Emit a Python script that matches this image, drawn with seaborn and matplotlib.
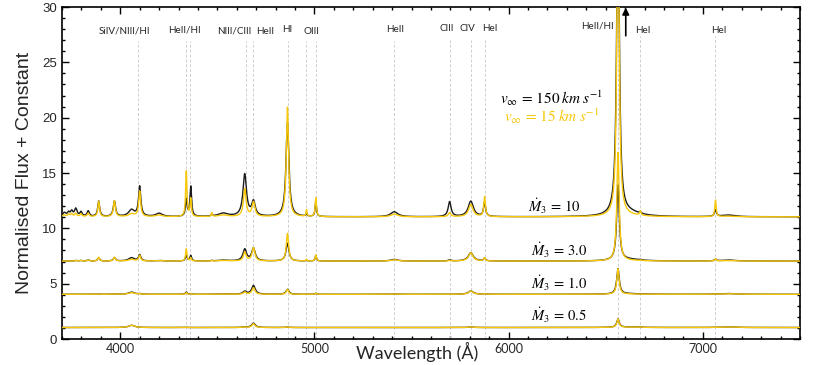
import numpy as np
import pandas as pd
import matplotlib
matplotlib.use('Agg')
import matplotlib.pyplot as plt
import seaborn as sns
from matplotlib.ticker import MultipleLocator

sns.set_style('ticks')
plt.rcParams['font.family'] = ['Liberation Sans', 'DejaVu Sans']
plt.rcParams['mathtext.fontset'] = 'stix'

# ---------------- data ----------------
models = ['10', '3.0', '1.0', '0.5']
offsets = [10, 6, 3, 0]
continuum = 1.04

# emission line centres (Angstrom)
centers = [3712, 3734, 3750, 3771, 3798, 3835, 3889, 3970, 4058, 4100, 4200,
           4340, 4363, 4471, 4530, 4641, 4686, 4861, 4959, 5007, 5411, 5696,
           5805, 5876, 6563, 6620, 6678, 7065, 7130]
# half widths (Angstrom) for the fast (150 km/s) and slow (15 km/s) winds
hwhm_fast = [10, 7, 7, 8, 7, 7, 6, 7, 18, 7, 20, 5, 5, 4, 30, 11, 11, 9, 3, 4,
             22, 9, 16, 6, 8, 70, 5, 6, 40]
hwhm_slow = [10, 6, 6, 6, 6, 6, 5, 6, 18, 6, 20, 4, 4, 3, 30, 8, 9, 7, 3, 4,
             20, 8, 14, 5, 7, 70, 4, 4, 40]
# peak heights above the continuum
amp_fast_10 = [0.35, 0.35, 0.45, 0.7, 0.4, 0.5, 1.4, 1.4, 0.6, 2.7, 0.3, 1.5, 2.7,
               0.15, 0.3, 3.8, 1.3, 8.5, 0.3, 1.4, 0.45, 1.35, 1.4, 1.3, 30,
               0.35, 0.15, 0.6, 0.15]
amp_slow_10 = [0.15, 0.2, 0.25, 0.3, 0.25, 0.3, 1.4, 1.45, 0.25, 2.3, 0.15, 4.1,
               1.6, 0.35, 0.15, 2.5, 1.3, 9.9, 0.6, 1.7, 0.25, 0.35, 1.1, 1.8,
               30, 0.1, 0.4, 1.5, 0.05]
amp_fast_3 = [0, 0, 0, 0.05, 0.05, 0.1, 0.3, 0.3, 0.3, 0.55, 0.05, 0.5, 0.5,
              0.05, 0.08, 1.05, 1.15, 1.6, 0.08, 0.5, 0.15, 0.1, 0.75, 0.25,
              6.8, 0.15, 0.05, 0.15, 0.1]
amp_slow_3 = [0, 0, 0, 0.05, 0.05, 0.1, 0.35, 0.35, 0.15, 0.5, 0.05, 1.1, 0.3,
              0.05, 0.05, 0.8, 1.2, 2.5, 0.15, 0.55, 0.12, 0.05, 0.75, 0.3,
              9.8, 0.05, 0.05, 0.2, 0.05]
amp_fast_1 = [0, 0, 0, 0, 0, 0, 0.03, 0.03, 0.2, 0.05, 0, 0.2, 0.05, 0, 0.03,
              0.25, 0.8, 0.45, 0, 0.1, 0.03, 0, 0.3, 0.05, 2.3, 0.05, 0, 0.03,
              0.07]
amp_slow_1 = [0, 0, 0, 0, 0, 0, 0.03, 0.03, 0.15, 0.05, 0, 0.15, 0.05, 0, 0.03,
              0.2, 0.6, 0.45, 0, 0.1, 0.03, 0, 0.3, 0.05, 2.3, 0.02, 0, 0.03,
              0.05]
amp_fast_05 = [0, 0, 0, 0, 0, 0, 0, 0, 0.2, 0, 0, 0.02, 0, 0, 0, 0.05, 0.4,
               0.05, 0, 0, 0, 0, 0.05, 0, 0.75, 0.04, 0.05, 0, 0.06]
amp_slow_05 = [0, 0, 0, 0, 0, 0, 0, 0, 0.2, 0, 0, 0.02, 0, 0, 0, 0.05, 0.35,
               0.05, 0, 0, 0, 0, 0.05, 0, 0.75, 0.03, 0.04, 0, 0.05]
amps_fast = [amp_fast_10, amp_fast_3, amp_fast_1, amp_fast_05]
amps_slow = [amp_slow_10, amp_slow_3, amp_slow_1, amp_slow_05]

# identified lines (dashed markers) and their labels
marker_wl = [4089, 4340, 4358, 4645, 4683, 4862, 4959, 5007, 5411, 5696, 5806,
             5880, 6563, 6678, 7065]
marker_top = [26.9, 26.9, 26.9, 26.9, 26.9, 26.9, 26.9, 26.9, 26.9, 27.0, 27.0,
              27.0, 30.0, 27.4, 27.4]
label_text = ['SiIV/NIII/HI', 'HeII/HI', 'NIII/CIII', 'HeII', 'HI', 'OIII',
              'HeII', 'CIII', 'CIV', 'HeI', 'HeII/HI', 'HeI', 'HeI']
label_x = [4024, 4330, 4588, 4745, 4860, 4983, 5417, 5679, 5790, 5905, 6456,
           6689, 7084]
label_y = [27.8, 27.9, 27.8, 27.8, 27.97, 27.76, 27.97, 28.1, 28.1, 28.1, 28.3,
           27.9, 27.9]
mdot_label_x = [6237, 6260, 6260, 6260]
mdot_label_y = [11.95, 8.04, 5.03, 2.1]

BLACK = '#1c1c1c'
GOLD = '#F7C70A'

# ---------------- build spectra ----------------
wl = np.arange(3700, 7500.5, 0.5)


def spectrum(amps, widths):
    f = np.full_like(wl, continuum)
    for c, a, g in zip(centers, amps, widths):
        if a:
            f += a / (1.0 + ((wl - c) / g) ** 2)
    return f


rows = []
for m, off, af, asl in zip(models, offsets, amps_fast, amps_slow):
    rows.append(pd.DataFrame({'wavelength': wl, 'flux': spectrum(af, hwhm_fast) + off,
                              'model': m, 'wind': '150'}))
    rows.append(pd.DataFrame({'wavelength': wl, 'flux': spectrum(asl, hwhm_slow) + off,
                              'model': m, 'wind': '15'}))
df = pd.concat(rows, ignore_index=True)

# ---------------- plot ----------------
fig = plt.figure(figsize=(8.22, 3.65), dpi=100)
ax = fig.add_axes([0.0754, 0.0712, 0.8978, 0.9096])

ax.vlines(marker_wl, 0, marker_top, colors='#cfcfcf', linestyles=(0, (3, 2)),
          linewidth=0.7, zorder=1)

sns.lineplot(data=df[df.wind == '150'], x='wavelength', y='flux', units='model',
             estimator=None, sort=False, color=BLACK, linewidth=1.0, ax=ax,
             zorder=3)
sns.lineplot(data=df[df.wind == '15'], x='wavelength', y='flux', units='model',
             estimator=None, sort=False, color=GOLD, linewidth=1.0, ax=ax,
             zorder=4)

for t, x, y in zip(label_text, label_x, label_y):
    ax.text(x, y, t, ha='center', va='center', fontsize=7.1, family='Lato')

for m, x, y in zip(models, mdot_label_x, mdot_label_y):
    ax.text(x, y, r'$\dot{M}_3\,=\,%s$' % m, ha='center', va='center',
            fontsize=10.5, color='black')

ax.text(6222, 21.75, r'$v_{\infty}\,=\,150\;km\;s^{-1}$', ha='center',
        va='center', fontsize=11, color='black')
ax.text(6222, 20.1, r'$v_{\infty}\,=\,15\;km\;s^{-1}$', ha='center',
        va='center', fontsize=11, color=GOLD)

ax.annotate('', xy=(6603, 29.95), xytext=(6603, 27.4),
            arrowprops=dict(arrowstyle='-|>', color='black', lw=1.2,
                            mutation_scale=10, shrinkA=0, shrinkB=0))

ax.set_xlim(3700, 7500)
ax.set_ylim(0, 30)
ax.xaxis.set_major_locator(MultipleLocator(1000))
ax.xaxis.set_minor_locator(MultipleLocator(100))
ax.yaxis.set_major_locator(MultipleLocator(5))
ax.yaxis.set_minor_locator(MultipleLocator(1))
ax.tick_params(which='both', direction='in', top=True, right=True, width=1,
               color='black')
ax.tick_params(which='major', length=5)
ax.tick_params(which='minor', length=2.5)
ax.tick_params(axis='x', which='major', pad=3)
for s in ax.spines.values():
    s.set_linewidth(1.2)
    s.set_color('black')

for lab in ax.get_xticklabels():
    lab.set_fontfamily('Lato')
    lab.set_fontsize(9)
for lab in ax.get_yticklabels():
    lab.set_fontfamily('Liberation Sans')
    lab.set_fontsize(9.5)

ax.set_xlabel('Wavelength (Å)', fontsize=13, family='Lato')
ax.xaxis.set_label_coords(0.481, -0.008)
ax.set_ylabel('Normalised Flux + Constant', fontsize=14,
              family='Liberation Sans', labelpad=7)

fig.savefig('out.png', dpi=100)
